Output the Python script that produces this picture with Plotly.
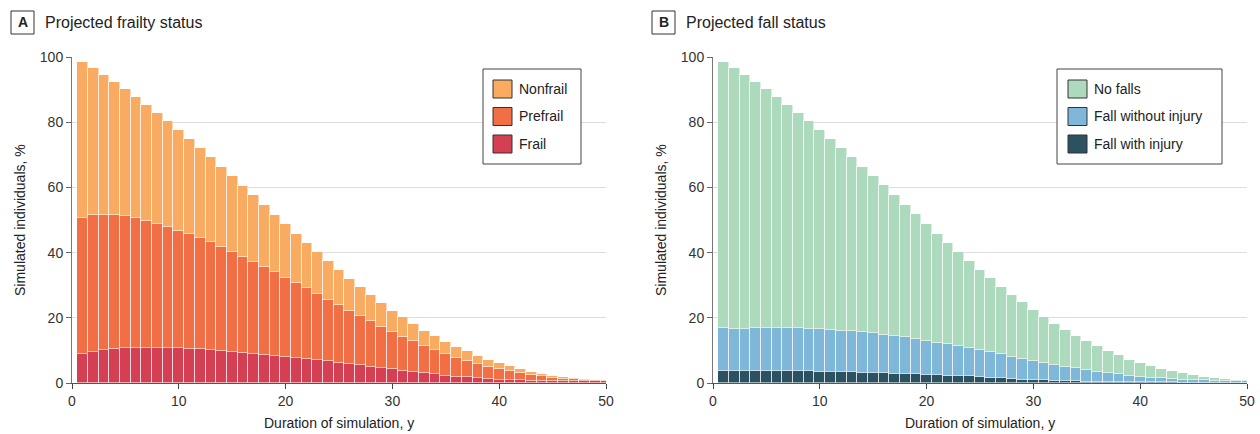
import plotly.graph_objects as go

W, H = 1260, 434
FONT = "Liberation Sans"

years = list(range(1, 51))

# Panel A: cumulative stack tops (% of simulated individuals)
alive_a = [98.5, 96.6, 94.5, 92.3, 90.1, 87.8, 85.3, 82.9, 80.3, 77.6,
           74.9, 72.0, 69.3, 66.3, 63.4, 60.5, 57.6, 54.6, 51.6, 48.7,
           45.8, 43.0, 40.1, 37.3, 34.6, 32.0, 29.5, 26.9, 24.6, 22.2,
           20.1, 18.1, 16.1, 14.3, 12.7, 11.1, 9.7, 8.4, 7.1, 6.0,
           5.1, 4.2, 3.5, 2.9, 2.3, 1.9, 1.5, 1.2, 1.0, 0.9]
prefrail_or_frail = [50.7, 51.5, 51.6, 51.5, 51.1, 50.5, 49.7, 48.9, 48.0, 46.7,
                     45.6, 44.4, 43.1, 41.6, 40.2, 38.7, 37.1, 35.5, 33.9, 32.2,
                     30.6, 29.0, 27.2, 25.6, 23.9, 22.2, 20.6, 19.0, 17.2, 15.7,
                     14.2, 12.8, 11.3, 10.0, 8.9, 7.8, 6.8, 5.8, 4.9, 4.2,
                     3.6, 3.0, 2.4, 2.0, 1.6, 1.3, 1.1, 0.9, 0.8, 0.7]
frail = [8.8, 9.5, 10.1, 10.4, 10.7, 10.7, 10.8, 10.7, 10.7, 10.6,
         10.5, 10.3, 10.0, 9.8, 9.5, 9.2, 9.0, 8.7, 8.4, 8.1,
         7.8, 7.4, 7.0, 6.6, 6.2, 5.7, 5.4, 5.0, 4.6, 4.2,
         3.8, 3.4, 3.0, 2.7, 2.3, 1.9, 1.7, 1.4, 1.2, 1.0,
         0.9, 0.8, 0.7, 0.6, 0.6, 0.5, 0.5, 0.5, 0.5, 0.5]

# Panel B: cumulative stack tops
alive_b = [98.5, 96.6, 94.5, 92.3, 90.1, 87.8, 85.3, 82.9, 80.3, 77.7,
           74.9, 72.1, 69.3, 66.4, 63.5, 60.6, 57.7, 54.7, 51.7, 48.8,
           45.8, 43.0, 40.1, 37.5, 34.8, 32.1, 29.6, 27.1, 24.7, 22.3,
           20.2, 18.2, 16.2, 14.4, 12.8, 11.2, 9.8, 8.5, 7.2, 6.1,
           5.2, 4.3, 3.6, 3.0, 2.4, 1.9, 1.6, 1.3, 1.0, 0.8]
any_fall = [17.0, 16.7, 16.7, 16.9, 16.9, 17.0, 16.9, 16.8, 16.7, 16.5,
            16.4, 16.1, 15.8, 15.5, 15.2, 14.8, 14.4, 14.0, 13.5, 12.9,
            12.4, 11.9, 11.2, 10.6, 10.1, 9.5, 8.8, 8.1, 7.3, 6.7,
            6.1, 5.5, 5.0, 4.5, 4.0, 3.5, 3.1, 2.7, 2.2, 1.9,
            1.6, 1.4, 1.2, 1.0, 0.9, 0.8, 0.7, 0.6, 0.6, 0.5]
fall_injury = [3.7, 3.7, 3.7, 3.7, 3.7, 3.7, 3.7, 3.6, 3.6, 3.5,
               3.5, 3.4, 3.3, 3.2, 3.1, 3.0, 2.9, 2.8, 2.7, 2.6,
               2.4, 2.3, 2.2, 2.0, 1.8, 1.6, 1.4, 1.2, 1.0, 0.9,
               0.8, 0.7, 0.6, 0.5, 0.45, 0.4, 0.35, 0.3, 0.3, 0.25,
               0.2, 0.2, 0.2, 0.15, 0.15, 0.1, 0.1, 0.1, 0.1, 0.1]

nonfrail = [round(a - p, 2) for a, p in zip(alive_a, prefrail_or_frail)]
prefrail = [round(p - f, 2) for p, f in zip(prefrail_or_frail, frail)]
no_falls = [round(a - f, 2) for a, f in zip(alive_b, any_fall)]
fall_no_injury = [round(f - i, 2) for f, i in zip(any_fall, fall_injury)]

labels_a = ["Nonfrail", "Prefrail", "Frail"]
colors_a = ["#F8AB61", "#F26F45", "#D43F53"]
labels_b = ["No falls", "Fall without injury", "Fall with injury"]
colors_b = ["#ADD9BC", "#7EB7D8", "#2C5160"]

x_ticks = [0, 10, 20, 30, 40, 50]
y_ticks = [0, 20, 40, 60, 80, 100]


def px(x):
    return x / W


def py(y):
    return 1 - y / H


fig = go.Figure()

line = dict(color="rgba(255,255,255,0.55)", width=1)
for vals, name, col in [(frail, "Frail", colors_a[2]), (prefrail, "Prefrail", colors_a[1]),
                        (nonfrail, "Nonfrail", colors_a[0])]:
    fig.add_trace(go.Bar(x=years, y=vals, name=name, marker=dict(color=col, line=line),
                         xaxis="x", yaxis="y", showlegend=False, cliponaxis=False))
for vals, name, col in [(fall_injury, "Fall with injury", colors_b[2]),
                        (fall_no_injury, "Fall without injury", colors_b[1]),
                        (no_falls, "No falls", colors_b[0])]:
    fig.add_trace(go.Bar(x=years, y=vals, name=name, marker=dict(color=col, line=line),
                         xaxis="x2", yaxis="y2", showlegend=False, cliponaxis=False))

ax_common = dict(range=[0, 50], tickvals=x_ticks, ticks="outside", ticklen=5, tickcolor="#444",
                 showline=True, linecolor="#555", linewidth=1, showgrid=False, zeroline=False,
                 tickfont=dict(size=14, color="#333", family=FONT), fixedrange=True,
                 automargin=False)
ay_common = dict(range=[0, 100], tickvals=y_ticks, ticks="outside", ticklen=5, tickcolor="#666",
                 showline=True, linecolor="#777", linewidth=1, showgrid=True, gridcolor="#DDDDDD",
                 gridwidth=1, zeroline=False,
                 tickfont=dict(size=14, color="#333", family=FONT), fixedrange=True,
                 automargin=False)

ydom = [py(383), py(57)]
fig.update_layout(
    width=W, height=H, autosize=False, barmode="stack", bargap=0,
    margin=dict(l=0, r=0, t=0, b=0, pad=0),
    paper_bgcolor="white", plot_bgcolor="white",
    font=dict(family=FONT, color="#222"),
    showlegend=False,
    xaxis=dict(domain=[px(72), px(606)], anchor="y", **ax_common),
    yaxis=dict(domain=ydom, anchor="x", **ay_common),
    xaxis2=dict(domain=[px(713), px(1247)], anchor="y2", **ax_common),
    yaxis2=dict(domain=ydom, anchor="x2", **ay_common),
)

shapes = []
annotations = []

# Panel letters and titles
for letter, x0, title, tx in [("A", 11, "Projected frailty status", 43),
                              ("B", 652, "Projected fall status", 684)]:
    shapes.append(dict(type="rect", xref="paper", yref="paper", x0=px(x0), x1=px(x0 + 23),
                       y0=py(34), y1=py(11), line=dict(color="#333", width=1), fillcolor="white"))
    annotations.append(dict(text="<b>%s</b>" % letter, xref="paper", yref="paper",
                            x=px(x0 + 11.5), y=py(22.5), showarrow=False, xanchor="center",
                            yanchor="middle", font=dict(size=14, color="#222", family=FONT)))
    annotations.append(dict(text=title, xref="paper", yref="paper", x=px(tx), y=py(22.5),
                            showarrow=False, xanchor="left", yanchor="middle",
                            font=dict(size=16, color="#222", family=FONT)))

# Axis titles
for cx, ycx in [(339, 20), (980, 661)]:
    annotations.append(dict(text="Duration of simulation, y", xref="paper", yref="paper",
                            x=px(cx), y=py(423), showarrow=False, xanchor="center",
                            yanchor="middle", font=dict(size=14, color="#222", family=FONT)))
    annotations.append(dict(text="Simulated individuals, %", xref="paper", yref="paper",
                            x=px(ycx), y=py(220), showarrow=False, xanchor="center",
                            yanchor="middle", textangle=-90,
                            font=dict(size=14, color="#222", family=FONT)))

# Manual legends
for bx0, bx1, sx, labels, colors in [(483, 581, 493, labels_a, colors_a),
                                     (1057, 1222, 1068, labels_b, colors_b)]:
    shapes.append(dict(type="rect", xref="paper", yref="paper", x0=px(bx0), x1=px(bx1),
                       y0=py(164), y1=py(69), line=dict(color="#444", width=1), fillcolor="white"))
    for i, (lab, col) in enumerate(zip(labels, colors)):
        yc = 89 + i * 27.5
        shapes.append(dict(type="rect", xref="paper", yref="paper", x0=px(sx), x1=px(sx + 19),
                           y0=py(yc + 9), y1=py(yc - 9), line=dict(color="#333", width=1),
                           fillcolor=col))
        annotations.append(dict(text=lab, xref="paper", yref="paper", x=px(sx + 24), y=py(yc),
                                showarrow=False, xanchor="left", yanchor="middle",
                                font=dict(size=14, color="#222", family=FONT)))

fig.update_layout(shapes=shapes, annotations=annotations)

post = ("document.documentElement.style.margin='0';"
        "document.documentElement.style.overflow='hidden';"
        "document.body.style.margin='0';"
        "document.body.style.padding='0';"
        "document.body.style.overflow='hidden';")
fig.write_html("out.html", post_script=post, config={"displayModeBar": False})
